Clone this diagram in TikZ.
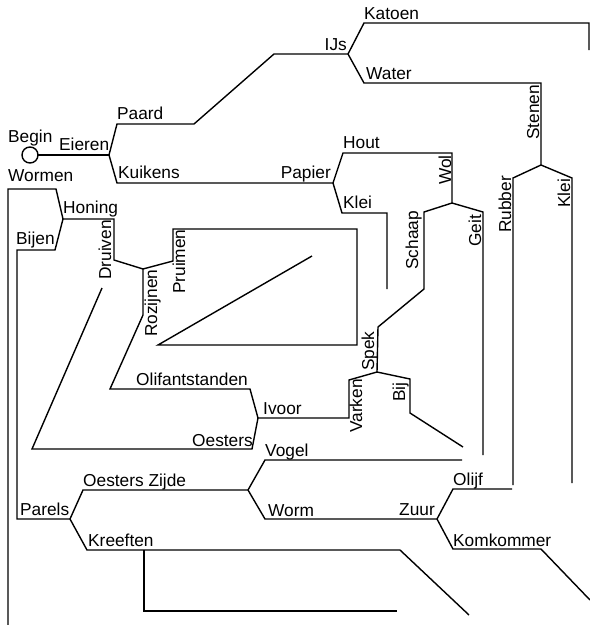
\documentclass[tikz,border=0pt]{standalone}
\usepackage{fontspec}
\setmainfont{Liberation Sans}
\usepackage{tikz}
\usetikzlibrary{positioning,calc}

\begin{document}
\begin{tikzpicture}[
  x=1pt,y=-1pt,
  every node/.style={inner sep=0pt,font=\fontsize{17.3}{20}\selectfont},
  pad/.style={draw,line width=1.4pt},
  lbl/.style={anchor=base west},
  lble/.style={anchor=base east},
  vlbl/.style={anchor=base west,rotate=90}
]
\useasboundingbox (0,0) rectangle (590,625);

% --- junctions ---
\node[draw,circle,line width=1.4pt,minimum size=16pt,outer sep=0pt] (begin) at (30,155) {};
\coordinate (eieren) at (109,155);
\coordinate (ijs) at (348,54);
\coordinate (papier) at (333,183);
\coordinate (stenen) at (541,165);
\coordinate (wol) at (452,203);
\coordinate (spek) at (377,372);
\coordinate (honing) at (63,219);
\coordinate (rozijnen) at (143,269);
\coordinate (ivoor) at (258,418);
\coordinate (parels) at (70,519);
\coordinate (zijde) at (248,490);
\coordinate (zuur) at (437,519);

% --- free ends ---
\coordinate (katoenend) at (589,50);
\coordinate (rubberend) at (513,485);
\coordinate (kleiend) at (572,483);
\coordinate (klei2end) at (387,289);
\coordinate (geitend) at (483,455);
\coordinate (bijend) at (463,447);
\coordinate (pruimenend) at (312,256);
\coordinate (druivenend) at (102,288);
\coordinate (wormenend) at (8,625);
\coordinate (kreeftenend) at (469,615);
\coordinate (kreeften2end) at (397,611);
\coordinate (vogelend) at (462,460);
\coordinate (olijfend) at (512,489);
\coordinate (komkommerend) at (590,600);

% --- paths ---
\draw[pad] (begin) -- (eieren);
\draw[pad] (eieren) -- (117,124) -- (194,124) -- (274,54) -- (ijs);
\draw[pad] (eieren) -- (117,183) -- (papier);
\draw[pad] (ijs) -- (364,23) -- (589,23) -- (katoenend);
\draw[pad] (ijs) -- (364,83) -- (541,83) -- (stenen);
\draw[pad] (stenen) -- (513,178) -- (rubberend);
\draw[pad] (stenen) -- (572,178) -- (kleiend);
\draw[pad] (papier) -- (343,153) -- (452,153) -- (wol);
\draw[pad] (papier) -- (342,213) -- (387,213) -- (klei2end);
\draw[pad] (wol) -- (424,212) -- (424,289) -- (378,327) -- (spek);
\draw[pad] (wol) -- (483,212) -- (geitend);
\draw[pad] (spek) -- (410,379) -- (410,413) -- (bijend);
\draw[pad] (spek) -- (349,380) -- (349,418) -- (ivoor);
\draw[pad] (ivoor) -- (250,389) -- (110,389) -- (143,315) -- (rozijnen);
\draw[pad] (rozijnen) -- (114,260) -- (114,219) -- (honing);
\draw[pad] (rozijnen) -- (173,261) -- (173,229) -- (357,229) -- (357,345) -- (158,345) -- (pruimenend);
\draw[pad] (ivoor) -- (252,449) -- (32,449) -- (druivenend);
\draw[pad] (honing) -- (56,189) -- (8,189) -- (wormenend);
\draw[pad] (honing) -- (55,250) -- (17,250) -- (17,519) -- (parels);
\draw[pad] (parels) -- (83,490) -- (zijde);
\draw[pad] (parels) -- (87,550) -- (400,550) -- (kreeftenend);
\draw[pad] (144,550) -- (144,611) -- (kreeften2end);
\draw[pad] (zijde) -- (265,460) -- (vogelend);
\draw[pad] (zijde) -- (265,519) -- (zuur);
\draw[pad] (zuur) -- (453,489) -- (olijfend);
\draw[pad] (zuur) -- (453,549) -- (541,549) -- (komkommerend);

% --- labels ---
\node[lbl] (tbegin) at (8,142) {Begin};
\node[lbl] (teieren) at (59,150) {Eieren};
\node[lbl] (tpaard) at (117,119) {Paard};
\node[lbl] (tkuikens) at (118,178) {Kuikens};
\node[lbl] (twormen) at (8,181) {Wormen};
\node[lble] (tijs) at (347,50) {IJs};
\node[lbl] (tkatoen) at (364,19) {Katoen};
\node[lbl] (twater) at (366,79) {Water};
\node[lbl] (thout) at (343,148) {Hout};
\node[lble] (tpapier) at (331,178) {Papier};
\node[lbl] (tklei) at (343,208) {Klei};
\node[lbl] (thoning) at (63,213) {Honing};
\node[lbl] (tbijen) at (16,244) {Bijen};
\node[lbl] (tolifant) at (136,385) {Olifantstanden};
\node[lbl] (tivoor) at (263,414) {Ivoor};
\node[lbl] (toesters) at (192,446) {Oesters};
\node[lbl] (tvogel) at (265,456) {Vogel};
\node[lbl] (tzijde) at (83,486) {Oesters Zijde};
\node[lbl] (tworm) at (268,516) {Worm};
\node[lbl] (tparels) at (20,515) {Parels};
\node[lbl] (tkreeften) at (88,546) {Kreeften};
\node[lble] (tzuur) at (435,515) {Zuur};
\node[lbl] (tolijf) at (453,485) {Olijf};
\node[lbl] (tkomkommer) at (453,546) {Komkommer};

% --- labels along the uprights ---
\node[vlbl] (tstenen) at (539,140) {Stenen};
\node[vlbl] (twol) at (451,185) {Wol};
\node[vlbl] (trubber) at (511,233) {Rubber};
\node[vlbl] (tklei2) at (570,208) {Klei};
\node[vlbl] (tschaap) at (418,270) {Schaap};
\node[vlbl] (tgeit) at (481,247) {Geit};
\node[vlbl] (tspek) at (374,371) {Spek};
\node[vlbl] (tvarken) at (362,433) {Varken};
\node[vlbl] (tbij) at (405,402) {Bij};
\node[vlbl] (tdruiven) at (111,280) {Druiven};
\node[vlbl] (tpruimen) at (185,294) {Pruimen};
\node[vlbl] (trozijnen) at (157,337) {Rozijnen};
\end{tikzpicture}
\end{document}
